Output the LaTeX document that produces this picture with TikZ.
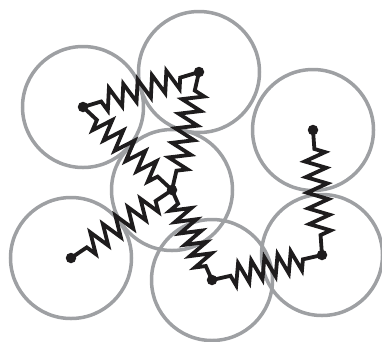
\documentclass[tikz,border=0pt]{standalone}
\usetikzlibrary{decorations.pathmorphing}
\definecolor{ringgray}{RGB}{158,160,163}
\definecolor{springblack}{RGB}{30,28,29}
\tikzset{
  ring/.style={draw=ringgray,line width=3.5pt,circle,minimum size=121pt,inner sep=0pt,fill=none},
  site/.style={circle,fill=springblack,minimum size=10.5pt,inner sep=0pt},
  spring/.style n args={3}{draw=springblack,line width=3.8pt,line join=miter,miter limit=10,
    decoration={zigzag,segment length=#1pt,amplitude=#2pt,pre length=#3pt,post length=#3pt},decorate}
}
\begin{document}
\begin{tikzpicture}[x=1pt,y=-1pt]
\useasboundingbox (0,0) rectangle (382,341);
\node[ring] at (83,107) {};
\node[ring] at (199,72) {};
\node[ring] at (172,190) {};
\node[ring] at (313,130) {};
\node[ring] at (71,258) {};
\node[ring] at (212,280) {};
\node[ring] at (322,255) {};
\node[site] (a) at (83,107) {};
\node[site] (b) at (199,72) {};
\node[site] (c) at (172,190) {};
\node[site] (d) at (313,130) {};
\node[site] (e) at (71,258) {};
\node[site] (f) at (212,280) {};
\node[site] (g) at (322,255) {};
\draw[spring={15.0}{-10.5}{19}] (a.center) -- (b.center);
\draw[spring={15.1}{-10.5}{19}] (a.center) -- (c.center);
\draw[spring={14.95}{10.5}{19}] (b.center) -- (c.center);
\draw[spring={15.1}{-10.5}{19}] (e.center) -- (c.center);
\draw[spring={12.4}{-10.5}{15}] (c.center) -- (f.center);
\draw[spring={13.5}{-10.5}{19}] (f.center) -- (g.center);
\draw[spring={15.7}{10.5}{19}] (d.center) -- (g.center);
\end{tikzpicture}
\end{document}
